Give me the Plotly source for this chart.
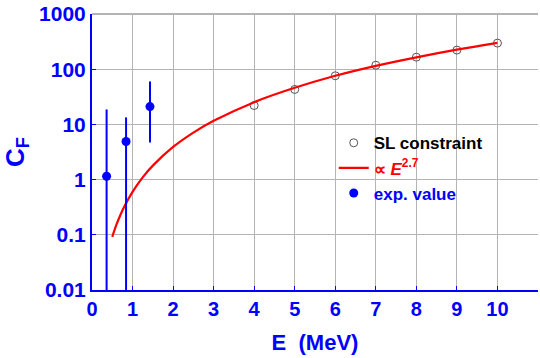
import plotly.graph_objects as go

# valores experimentais (E em MeV, C_F) com barras de erro assimétricas
exp_E = [0.36, 0.84, 1.43]
exp_CF = [1.15, 4.9, 21.0]
exp_err_mais = [17.5, 8.5, 39.0]
exp_err_menos = [1.14, 4.89, 16.3]

# restrição SL (círculos abertos)
sl_E = [4, 5, 6, 7, 8, 9, 10]
sl_CF = [22, 43, 76, 118, 165, 222, 297]

# curva ~ E^2.7
curva_E = [0.5, 0.6, 0.7, 0.8, 1.0, 1.25, 1.5, 2.0, 2.5, 3.0, 4.0, 5.0, 6.0, 7.0, 8.0, 9.0, 10.0]
curva_CF = [0.092, 0.151, 0.229, 0.329, 0.6, 1.10, 1.79, 3.9, 7.1, 11.6, 25.3, 46, 76, 115, 164, 226, 300]

# ticks (11 sem rótulo, só a grade)
x_ticks = [0, 1, 2, 3, 4, 5, 6, 7, 8, 9, 10, 11]
x_tick_texto = ["0", "1", "2", "3", "4", "5", "6", "7", "8", "9", "10", ""]
y_ticks = [0.01, 0.1, 1, 10, 100, 1000]
y_tick_texto = ["0.01", "0.1", "1", "10", "100", "1000"]

AZUL = "#0000ff"
CINZA = "#b4b4b4"
FONTE = "Liberation Sans"

fig = go.Figure()

fig.add_trace(go.Scatter(
    x=sl_E, y=sl_CF, mode="markers", name="SL constraint",
    marker=dict(symbol="circle-open", size=8, color="#555555", line=dict(width=1)),
))

fig.add_trace(go.Scatter(
    x=curva_E, y=curva_CF, mode="lines", line_shape="spline",
    name="<span style='color:red'>\u221d <i>E</i><sup>2.7</sup></span>",
    line=dict(color="red", width=2.2),
))

fig.add_trace(go.Scatter(
    x=exp_E, y=exp_CF, mode="markers",
    name="<span style='color:blue'>exp. value</span>",
    marker=dict(symbol="circle", size=9, color=AZUL),
    error_y=dict(type="data", symmetric=False, array=exp_err_mais,
                 arrayminus=exp_err_menos, color=AZUL, thickness=2, width=0),
))

# linha cinza no topo da área do gráfico (a grade de 1000 fica na borda)
fig.add_shape(type="line", xref="paper", yref="paper", x0=0, x1=1, y0=1, y1=1,
              line=dict(color=CINZA, width=2), layer="above")

fig.update_layout(
    width=540, height=358,
    margin=dict(l=92, r=2, t=14, b=68),
    paper_bgcolor="white", plot_bgcolor="white",
    font=dict(family=FONTE, color=AZUL),
    showlegend=True,
    legend=dict(
        x=0.542, y=0.597, xanchor="left", yanchor="top",
        bgcolor="rgba(0,0,0,0)",
        font=dict(family=FONTE, size=17, color="black", weight="bold"),
        itemwidth=30, tracegroupgap=0,
    ),
)

fig.update_xaxes(
    range=[0, 11], tickvals=x_ticks, ticktext=x_tick_texto,
    automargin=False,
    showgrid=True, gridcolor=CINZA, gridwidth=1,
    showline=True, linecolor=AZUL, linewidth=2,
    ticks="inside", ticklen=4, tickcolor=AZUL, tickwidth=1,
    tickfont=dict(family=FONTE, size=20, color=AZUL, weight="bold"),
    title=dict(text="E  (MeV)", font=dict(family=FONTE, size=22, color=AZUL, weight="bold"),
               standoff=16),
    zeroline=False,
)

fig.update_yaxes(
    type="log", range=[-2, 3], tickvals=y_ticks, ticktext=y_tick_texto,
    automargin=False,
    showgrid=True, gridcolor=CINZA, gridwidth=1,
    showline=True, linecolor=AZUL, linewidth=2,
    ticks="inside", ticklen=4, tickcolor=AZUL, tickwidth=1,
    tickfont=dict(family=FONTE, size=21, color=AZUL, weight="bold"),
    title=dict(text="C<sub>F</sub>", font=dict(family=FONTE, size=26, color=AZUL, weight="bold"),
               standoff=10),
    zeroline=False,
)

# a página tem margem de 8px no body; zera para o gráfico ocupar a janela toda
fig.write_html("out.html", config={"displayModeBar": False},
               post_script="document.body.style.margin='0px';")
